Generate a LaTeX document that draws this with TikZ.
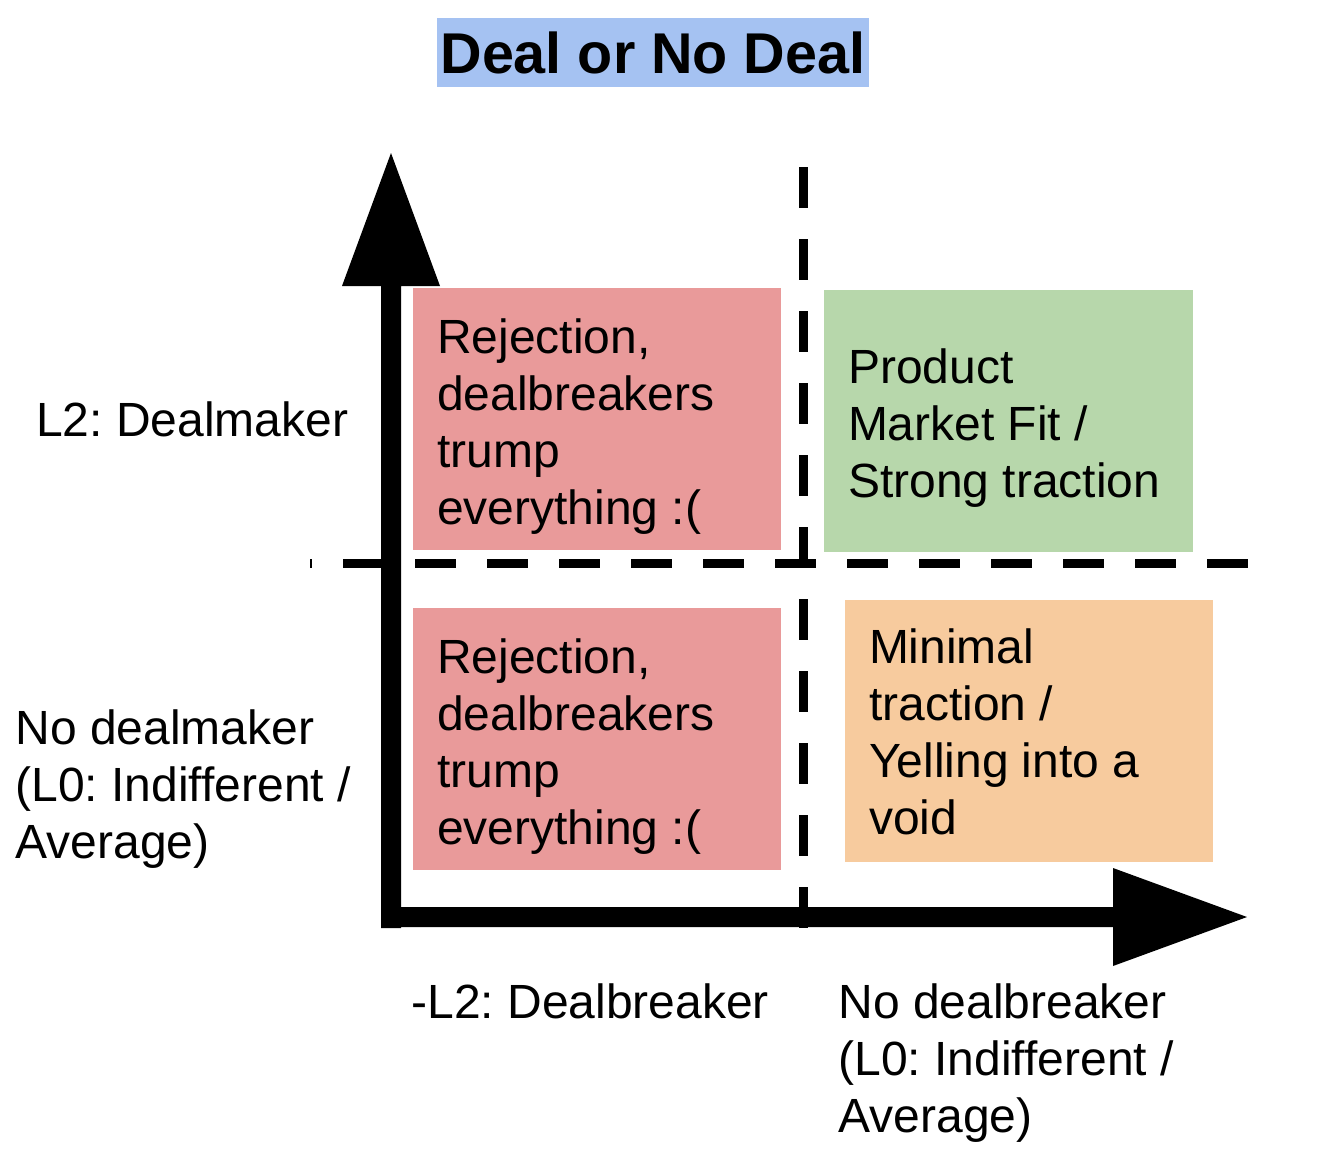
\documentclass[tikz,border=0pt]{standalone}
\usepackage{fontspec}
\setmainfont{Liberation Sans}
\definecolor{qred}{HTML}{E99A9A}
\definecolor{qgreen}{HTML}{B7D7AB}
\definecolor{qorange}{HTML}{F7CB9E}
\definecolor{qblue}{HTML}{A5C2F2}
\tikzset{
  quad/.style={fill=#1, draw=none, inner sep=0pt, outer sep=0pt, minimum width=368pt, minimum height=262pt},
  txt/.style={anchor=north west, inner sep=0pt, outer sep=0pt, align=left, font=\fontsize{48}{57}\selectfont\frenchspacing},
  divider/.style={line width=9pt, dash pattern=on 41pt off 31pt},
}
\begin{document}
\begin{tikzpicture}[x=1pt, y=-1pt]
\useasboundingbox (0,0) rectangle (1324,1162);
% title
\node[fill=qblue, inner sep=0pt, minimum width=432pt, minimum height=69pt,
      font=\fontsize{57.5}{66}\selectfont\bfseries] (title) at (653,52.5) {Deal or No Deal};
% quadrant boxes
\node[quad=qred] (redtop) at (597,419) {};
\node[quad=qgreen, minimum width=369pt] (green) at (1008.5,421) {};
\node[quad=qred] (redbot) at (597,739) {};
\node[quad=qorange] (orange) at (1029,731) {};
% quadrant texts
\node[txt] (redtoptxt) at (437,313.5) {\strut Rejection,\\dealbreakers\\trump\\everything :(};
\node[txt] (greentxt) at (848,343.5) {\strut Product\\Market Fit /\\Strong traction};
\node[txt] (redbottxt) at (437,633.5) {\strut Rejection,\\dealbreakers\\trump\\everything :(};
\node[txt] (orangetxt) at (869,623.5) {\strut Minimal\\traction /\\Yelling into a\\void};
% axis labels
\node[txt] (ydeal) at (36,396.5) {\strut L2: Dealmaker};
\node[txt] (ynodeal) at (15.5,705) {\strut No dealmaker\\(L0: Indifferent /\\Average)};
\node[txt] (xbreak) at (411.5,978.5) {\strut -L2: Dealbreaker};
\node[txt] (xnobreak) at (838.5,978.5) {\strut No dealbreaker\\(L0: Indifferent /\\Average)};
% dashed dividers
\coordinate (vdtop) at (803,167);
\coordinate (vdbot) at (803,930);
\coordinate (hdleft) at (310,563);
\coordinate (hdright) at (1248,563);
\draw[divider] (vdtop) -- (vdbot);
\draw[divider, dash phase=39pt] (hdleft) -- (hdright);
% axes
\coordinate (origin) at (391,917);
\fill (381,928) -- (381,286) -- (342,286) -- (391,153) -- (440,286) -- (401,286) -- (401,928) -- cycle;
\fill (381,907) -- (1113,907) -- (1113,868) -- (1247,917) -- (1113,966) -- (1113,927) -- (381,927) -- cycle;
\end{tikzpicture}
\end{document}
